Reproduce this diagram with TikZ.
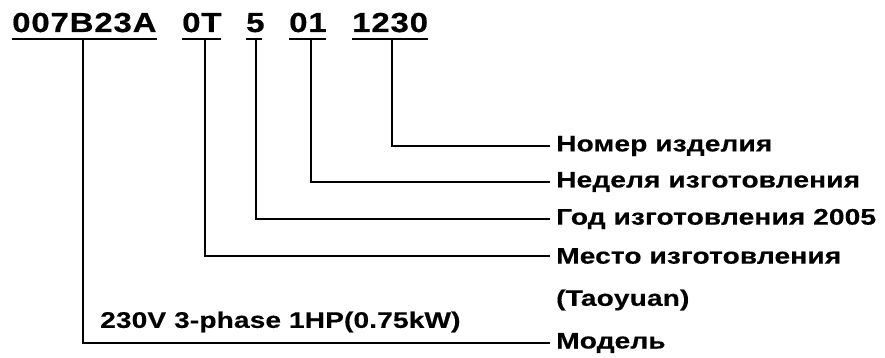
\documentclass[tikz,border=0pt]{standalone}
\usepackage{fontspec}
\setmainfont{Liberation Sans}
\newfontfamily\lblfont{Liberation Sans}[FakeStretch=1.25,LetterSpace=0.5,FakeBold=0.4]
\newfontfamily\codefont{Liberation Sans}[FakeStretch=1.2,LetterSpace=3,FakeBold=0.6]
\begin{document}
\begin{tikzpicture}[x=1pt,y=-1pt,
  code/.style={inner sep=0pt,anchor=base west,font=\codefont\bfseries\fontsize{27.5}{30}\selectfont},
  lbl/.style={inner xsep=6pt,inner ysep=0pt,anchor=west,font=\lblfont\bfseries\fontsize{22.5}{25}\selectfont},
  ulin/.style={line width=2pt},
  lead/.style={line width=2.6pt}]
\useasboundingbox (0,0) rectangle (885,358);
% top codes
\node[code] (c1) at (12,32) {007B23A};
\node[code] (c2) at (182,32) {0T};
\node[code] (c3) at (246,32) {5};
\node[code] (c4) at (289,32) {01};
\node[code] (c5) at (352,32) {1230};
% underlines
\coordinate (u1a) at (12,39.5);  \coordinate (u1b) at (157,39.5);
\coordinate (u2a) at (182,39.5); \coordinate (u2b) at (221,39.5);
\coordinate (u3a) at (246,39.5); \coordinate (u3b) at (262,39.5);
\coordinate (u4a) at (289,39.5); \coordinate (u4b) at (326,39.5);
\coordinate (u5a) at (352,39.5); \coordinate (u5b) at (428,39.5);
\foreach \i in {1,...,5} {\draw[ulin] (u\i a) -- (u\i b);}
% tap points
\coordinate (t1) at (83,39.5);
\coordinate (t2) at (205,39.5);
\coordinate (t3) at (256,39.5);
\coordinate (t4) at (311,39.5);
\coordinate (t5) at (392,39.5);
% labels
\node[lbl] (l5) at (550,146) {Номер изделия};
\node[lbl] (l4) at (550,182) {Неделя изготовления};
\node[lbl] (l3) at (550,219) {Год изготовления 2005};
\node[lbl] (l2) at (550,256) {Место изготовления};
\node[lbl] (l2b) at (550,300) {(Taoyuan)};
\node[lbl] (l1) at (550,343) {Модель};
\node[lbl,inner xsep=0pt] (spec) at (100,322) {230V 3-phase 1HP(0.75kW)};
% leaders
\draw[lead] (t5) |- (l5.west);
\draw[lead] (t4) |- (l4.west);
\draw[lead] (t3) |- (l3.west);
\draw[lead] (t2) |- (l2.west);
\draw[lead] (t1) |- (l1.west);
\end{tikzpicture}
\end{document}
